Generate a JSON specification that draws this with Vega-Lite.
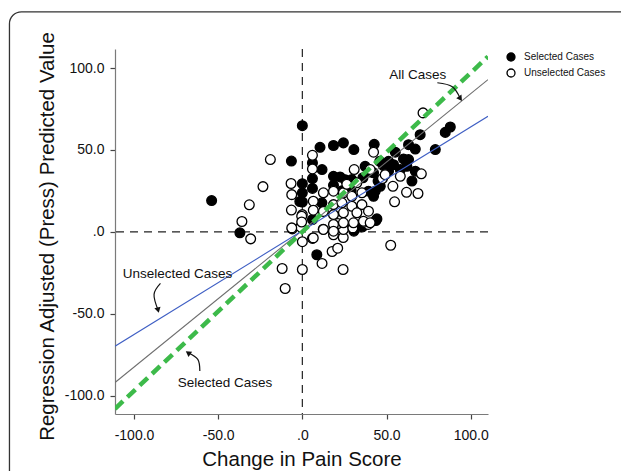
{
  "$schema": "https://vega.github.io/schema/vega-lite/v6.json",
  "width": 373,
  "height": 365,
  "autosize": "none",
  "padding": {"left": 115, "top": 49, "right": 133, "bottom": 57},
  "background": "white",
  "config": {
    "view": {"stroke": null},
    "font": "Liberation Sans",
    "axis": {
      "grid": false,
      "domainColor": "#7a7a7a",
      "domainWidth": 1.2,
      "tickColor": "#444444",
      "tickSize": 5,
      "tickWidth": 1.2,
      "labelFont": "Liberation Sans",
      "labelFontSize": 14,
      "labelColor": "#111111",
      "titleFont": "Liberation Sans",
      "titleFontSize": 20.5,
      "titleFontWeight": "normal",
      "titleColor": "#111111"
    }
  },
  "datasets": {
    "one": [{}],
    "points": [
      {"group": "Selected Cases", "x": -53.9, "y": 19.1},
      {"group": "Selected Cases", "x": -37.1, "y": -0.6},
      {"group": "Selected Cases", "x": -6.5, "y": 43.2},
      {"group": "Selected Cases", "x": 0, "y": 64.8},
      {"group": "Selected Cases", "x": 10.5, "y": 51.6},
      {"group": "Selected Cases", "x": 18.5, "y": 52.7},
      {"group": "Selected Cases", "x": 24.4, "y": 54.3},
      {"group": "Selected Cases", "x": 30.6, "y": 50.2},
      {"group": "Selected Cases", "x": 42.7, "y": 53.4},
      {"group": "Selected Cases", "x": 6, "y": 42},
      {"group": "Selected Cases", "x": 11.7, "y": 38},
      {"group": "Selected Cases", "x": 6, "y": 32.5},
      {"group": "Selected Cases", "x": 0, "y": 29.4},
      {"group": "Selected Cases", "x": 0, "y": 23.8},
      {"group": "Selected Cases", "x": 6, "y": 26.5},
      {"group": "Selected Cases", "x": 0, "y": 18.2},
      {"group": "Selected Cases", "x": 11.6, "y": 17.7},
      {"group": "Selected Cases", "x": 6, "y": 7.5},
      {"group": "Selected Cases", "x": -1.5, "y": 18.5},
      {"group": "Selected Cases", "x": 18.5, "y": 33.9},
      {"group": "Selected Cases", "x": 22.4, "y": 33.5},
      {"group": "Selected Cases", "x": 25.5, "y": 31.8},
      {"group": "Selected Cases", "x": 29.4, "y": 31.9},
      {"group": "Selected Cases", "x": 18.5, "y": 28.4},
      {"group": "Selected Cases", "x": 23.5, "y": 25},
      {"group": "Selected Cases", "x": 29, "y": 25},
      {"group": "Selected Cases", "x": 39.3, "y": 24.8},
      {"group": "Selected Cases", "x": 37.3, "y": 40},
      {"group": "Selected Cases", "x": 42.3, "y": 36},
      {"group": "Selected Cases", "x": 48.2, "y": 40.4},
      {"group": "Selected Cases", "x": 51.2, "y": 43},
      {"group": "Selected Cases", "x": 54.2, "y": 41},
      {"group": "Selected Cases", "x": 51.2, "y": 37},
      {"group": "Selected Cases", "x": 46.3, "y": 27.8},
      {"group": "Selected Cases", "x": 43.3, "y": 24.8},
      {"group": "Selected Cases", "x": 45, "y": 31},
      {"group": "Selected Cases", "x": 46, "y": 43},
      {"group": "Selected Cases", "x": 36, "y": 33},
      {"group": "Selected Cases", "x": 40, "y": 36.5},
      {"group": "Selected Cases", "x": 55.2, "y": 48.6},
      {"group": "Selected Cases", "x": 60.1, "y": 44.5},
      {"group": "Selected Cases", "x": 63.1, "y": 44.1},
      {"group": "Selected Cases", "x": 62.1, "y": 40},
      {"group": "Selected Cases", "x": 58.2, "y": 38},
      {"group": "Selected Cases", "x": 67.1, "y": 50.5},
      {"group": "Selected Cases", "x": 63.1, "y": 53.2},
      {"group": "Selected Cases", "x": 70, "y": 59.3},
      {"group": "Selected Cases", "x": 79, "y": 50.2},
      {"group": "Selected Cases", "x": 84.9, "y": 60.7},
      {"group": "Selected Cases", "x": 87.9, "y": 64},
      {"group": "Selected Cases", "x": 67.1, "y": 37},
      {"group": "Selected Cases", "x": 65.1, "y": 31},
      {"group": "Selected Cases", "x": 42.3, "y": 21.7},
      {"group": "Selected Cases", "x": 44.3, "y": 7.9},
      {"group": "Selected Cases", "x": 30.6, "y": 0.4},
      {"group": "Selected Cases", "x": 35.7, "y": 3},
      {"group": "Selected Cases", "x": 43.7, "y": 6.9},
      {"group": "Selected Cases", "x": 8.6, "y": -14},
      {"group": "Unselected Cases", "x": -19, "y": 44.1},
      {"group": "Unselected Cases", "x": -23.4, "y": 27.6},
      {"group": "Unselected Cases", "x": -31.5, "y": 16.5},
      {"group": "Unselected Cases", "x": -35.9, "y": 6.3},
      {"group": "Unselected Cases", "x": -30.7, "y": -4.3},
      {"group": "Unselected Cases", "x": -6.7, "y": 29.5},
      {"group": "Unselected Cases", "x": -6.5, "y": 13.3},
      {"group": "Unselected Cases", "x": -6, "y": 1.8},
      {"group": "Unselected Cases", "x": -12, "y": -22.4},
      {"group": "Unselected Cases", "x": -10.2, "y": -34.6},
      {"group": "Unselected Cases", "x": 0, "y": -23},
      {"group": "Unselected Cases", "x": 0, "y": -6},
      {"group": "Unselected Cases", "x": 6, "y": -4},
      {"group": "Unselected Cases", "x": 11.7, "y": -19.3},
      {"group": "Unselected Cases", "x": 17.7, "y": -12},
      {"group": "Unselected Cases", "x": 21, "y": -10},
      {"group": "Unselected Cases", "x": 24.2, "y": -23},
      {"group": "Unselected Cases", "x": 52.5, "y": -8.2},
      {"group": "Unselected Cases", "x": -1, "y": 3},
      {"group": "Unselected Cases", "x": 12.4, "y": 1.6},
      {"group": "Unselected Cases", "x": 18.5, "y": -1.8},
      {"group": "Unselected Cases", "x": 24.3, "y": -3.5},
      {"group": "Unselected Cases", "x": 24.4, "y": 1.4},
      {"group": "Unselected Cases", "x": 21.1, "y": 5.1},
      {"group": "Unselected Cases", "x": 30, "y": 2.4},
      {"group": "Unselected Cases", "x": 39.1, "y": 4.5},
      {"group": "Unselected Cases", "x": 36.7, "y": 5.9},
      {"group": "Unselected Cases", "x": 54.8, "y": 18.3},
      {"group": "Unselected Cases", "x": 61.9, "y": 24.1},
      {"group": "Unselected Cases", "x": 68.7, "y": 23.4},
      {"group": "Unselected Cases", "x": 70.7, "y": 35.4},
      {"group": "Unselected Cases", "x": 53.8, "y": 27.8},
      {"group": "Unselected Cases", "x": 47.6, "y": 32.5},
      {"group": "Unselected Cases", "x": 6, "y": 46.7},
      {"group": "Unselected Cases", "x": 6, "y": 38.4},
      {"group": "Unselected Cases", "x": 30.8, "y": 38},
      {"group": "Unselected Cases", "x": 42.3, "y": 48.6},
      {"group": "Unselected Cases", "x": 71.7, "y": 72.6},
      {"group": "Unselected Cases", "x": 0, "y": 10.5},
      {"group": "Unselected Cases", "x": 6.5, "y": 18.7},
      {"group": "Unselected Cases", "x": 6.5, "y": 13.2},
      {"group": "Unselected Cases", "x": 12.5, "y": 23.8},
      {"group": "Unselected Cases", "x": 18.5, "y": 24.8},
      {"group": "Unselected Cases", "x": 24.4, "y": 23.8},
      {"group": "Unselected Cases", "x": 12.5, "y": 12.4},
      {"group": "Unselected Cases", "x": 18.5, "y": 16.6},
      {"group": "Unselected Cases", "x": 23.5, "y": 17.7},
      {"group": "Unselected Cases", "x": 18.5, "y": 10.5},
      {"group": "Unselected Cases", "x": 24.4, "y": 11.6},
      {"group": "Unselected Cases", "x": 29.4, "y": 15.6},
      {"group": "Unselected Cases", "x": 35.4, "y": 16.6},
      {"group": "Unselected Cases", "x": 32.4, "y": 11.6},
      {"group": "Unselected Cases", "x": 36.3, "y": 6.5},
      {"group": "Unselected Cases", "x": 30.4, "y": 5.5},
      {"group": "Unselected Cases", "x": 40.3, "y": 5.5},
      {"group": "Unselected Cases", "x": 18.5, "y": 4.5},
      {"group": "Unselected Cases", "x": 24.4, "y": 5.5},
      {"group": "Unselected Cases", "x": 12.5, "y": 1.4},
      {"group": "Unselected Cases", "x": 18.5, "y": 0.4},
      {"group": "Unselected Cases", "x": 6.5, "y": -3.7},
      {"group": "Unselected Cases", "x": -6.3, "y": 2.4},
      {"group": "Unselected Cases", "x": -0.4, "y": 9.5},
      {"group": "Unselected Cases", "x": -0.4, "y": 6},
      {"group": "Unselected Cases", "x": -6.3, "y": 22.7},
      {"group": "Unselected Cases", "x": 29.4, "y": 21.7},
      {"group": "Unselected Cases", "x": 35.4, "y": 23.8},
      {"group": "Unselected Cases", "x": 40.3, "y": 38},
      {"group": "Unselected Cases", "x": 49.2, "y": 34.9},
      {"group": "Unselected Cases", "x": 58.2, "y": 33.9},
      {"group": "Unselected Cases", "x": 39.3, "y": 12.6},
      {"group": "Unselected Cases", "x": 32.4, "y": 29.9},
      {"group": "Unselected Cases", "x": 26.4, "y": 29}
    ],
    "fits": [
      {"series": "Selected", "x": -111.3, "y": -108},
      {"series": "Selected", "x": 110.3, "y": 107},
      {"series": "All", "x": -111.3, "y": -92},
      {"series": "All", "x": 110.3, "y": 92.9},
      {"series": "Unselected", "x": -111.3, "y": -69.8},
      {"series": "Unselected", "x": 110.3, "y": 70.5}
    ],
    "arrows": [
      {"arrow": "All", "step": 1, "x": 80.2, "y": 91},
      {"arrow": "All", "step": 2, "x": 89.1, "y": 88.6},
      {"arrow": "All", "step": 3, "x": 93.9, "y": 81.3},
      {"arrow": "Unselected", "step": 1, "x": -84.3, "y": -31.5},
      {"arrow": "Unselected", "step": 2, "x": -88.1, "y": -38.2},
      {"arrow": "Unselected", "step": 3, "x": -85.7, "y": -47.8},
      {"arrow": "Selected", "step": 1, "x": -60.9, "y": -85},
      {"arrow": "Selected", "step": 2, "x": -62.1, "y": -77.9},
      {"arrow": "Selected", "step": 3, "x": -67.9, "y": -73.8}
    ]
  },
  "layer": [
    {
      "data": {"name": "one"},
      "mark": {"type": "rect", "fill": null, "stroke": "#333333", "strokeWidth": 1.3, "cornerRadius": 12, "clip": false},
      "encoding": {
        "x": {"datum": -174, "type": "quantitative"},
        "x2": {"datum": 215},
        "y": {"datum": 134.3, "type": "quantitative"},
        "y2": {"datum": -165}
      }
    },
    {
      "data": {"name": "one"},
      "mark": {"type": "rule", "color": "#222222", "strokeWidth": 1.2, "strokeDash": [8, 6]},
      "encoding": {"x": {"datum": 0, "type": "quantitative"}}
    },
    {
      "data": {"name": "one"},
      "mark": {"type": "rule", "color": "#222222", "strokeWidth": 1.2, "strokeDash": [8, 6]},
      "encoding": {"y": {"datum": 0, "type": "quantitative"}}
    },
    {
      "data": {"name": "points"},
      "mark": {"type": "point", "shape": "circle", "size": 95, "stroke": "black", "strokeWidth": 1.3, "opacity": 1, "filled": false},
      "encoding": {
        "x": {
          "field": "x", "type": "quantitative",
          "scale": {"domain": [-111.3, 110.3], "nice": false, "zero": false},
          "axis": {
            "title": "Change in Pain Score",
            "values": [-100, -50, 0, 50, 100],
            "labelExpr": "datum.value == 0 ? '.0' : replace(format(datum.value, '.1f'), '\u2212', '-')",
            "labelPadding": 9,
            "titleY": 35
          }
        },
        "y": {
          "field": "y", "type": "quantitative",
          "scale": {"domain": [-111.2, 111.6], "nice": false, "zero": false},
          "axis": {
            "title": "Regression Adjusted (Press) Predicted Value",
            "values": [-100, -50, 0, 50, 100],
            "labelExpr": "datum.value == 0 ? '.0' : replace(format(datum.value, '.1f'), '\u2212', '-')",
            "labelPadding": 6,
            "titleX": -58,
            "titleY": 187
          }
        },
        "fill": {
          "field": "group", "type": "nominal",
          "scale": {"domain": ["Selected Cases", "Unselected Cases"], "range": ["black", "white"]},
          "legend": {
            "title": null,
            "orient": "none",
            "legendX": 391,
            "legendY": 3,
            "padding": 0,
            "symbolType": "circle",
            "symbolSize": 64,
            "symbolStrokeColor": "black",
            "symbolStrokeWidth": 1.3,
            "labelFontSize": 10,
            "labelFont": "Liberation Sans",
            "labelColor": "#111111",
            "labelOffset": 8,
            "rowPadding": 2
          }
        }
      }
    },
    {
      "data": {"name": "fits"},
      "transform": [{"filter": "datum.series == 'All'"}],
      "mark": {"type": "line", "color": "#6e6e6e", "strokeWidth": 1.1, "clip": true},
      "encoding": {
        "x": {"field": "x", "type": "quantitative"},
        "y": {"field": "y", "type": "quantitative"}
      }
    },
    {
      "data": {"name": "fits"},
      "transform": [{"filter": "datum.series == 'Unselected'"}],
      "mark": {"type": "line", "color": "#3f5fc4", "strokeWidth": 1.1, "clip": true},
      "encoding": {
        "x": {"field": "x", "type": "quantitative"},
        "y": {"field": "y", "type": "quantitative"}
      }
    },
    {
      "data": {"name": "fits"},
      "transform": [{"filter": "datum.series == 'Selected'"}],
      "mark": {"type": "line", "color": "#3dba4a", "strokeWidth": 4.5, "strokeDash": [11, 6], "clip": true},
      "encoding": {
        "x": {"field": "x", "type": "quantitative"},
        "y": {"field": "y", "type": "quantitative"}
      }
    },
    {
      "data": {"name": "arrows"},
      "mark": {"type": "line", "color": "#111111", "strokeWidth": 1.2, "interpolate": "cardinal"},
      "encoding": {
        "x": {"field": "x", "type": "quantitative"},
        "y": {"field": "y", "type": "quantitative"},
        "detail": {"field": "arrow"},
        "order": {"field": "step"}
      }
    },
    {
      "data": {"name": "one"},
      "mark": {"type": "point", "shape": "triangle-up", "filled": true, "color": "#111111", "size": 40, "angle": 146, "opacity": 1},
      "encoding": {"x": {"datum": 93.9, "type": "quantitative"}, "y": {"datum": 81.3, "type": "quantitative"}}
    },
    {
      "data": {"name": "one"},
      "mark": {"type": "point", "shape": "triangle-up", "filled": true, "color": "#111111", "size": 40, "angle": 166, "opacity": 1},
      "encoding": {"x": {"datum": -85.7, "type": "quantitative"}, "y": {"datum": -47.8, "type": "quantitative"}}
    },
    {
      "data": {"name": "one"},
      "mark": {"type": "point", "shape": "triangle-up", "filled": true, "color": "#111111", "size": 40, "angle": 305, "opacity": 1},
      "encoding": {"x": {"datum": -67.9, "type": "quantitative"}, "y": {"datum": -73.8, "type": "quantitative"}}
    },
    {
      "data": {"name": "one"},
      "mark": {"type": "text", "text": "All Cases", "fontSize": 13.5, "font": "Liberation Sans", "color": "#111111", "align": "center", "baseline": "middle"},
      "encoding": {"x": {"datum": 68.5, "type": "quantitative"}, "y": {"datum": 96, "type": "quantitative"}}
    },
    {
      "data": {"name": "one"},
      "mark": {"type": "text", "text": "Unselected Cases", "fontSize": 13.5, "font": "Liberation Sans", "color": "#111111", "align": "center", "baseline": "middle"},
      "encoding": {"x": {"datum": -74.2, "type": "quantitative"}, "y": {"datum": -25.6, "type": "quantitative"}}
    },
    {
      "data": {"name": "one"},
      "mark": {"type": "text", "text": "Selected Cases", "fontSize": 13.5, "font": "Liberation Sans", "color": "#111111", "align": "center", "baseline": "middle"},
      "encoding": {"x": {"datum": -46, "type": "quantitative"}, "y": {"datum": -92.1, "type": "quantitative"}}
    }
  ]
}
